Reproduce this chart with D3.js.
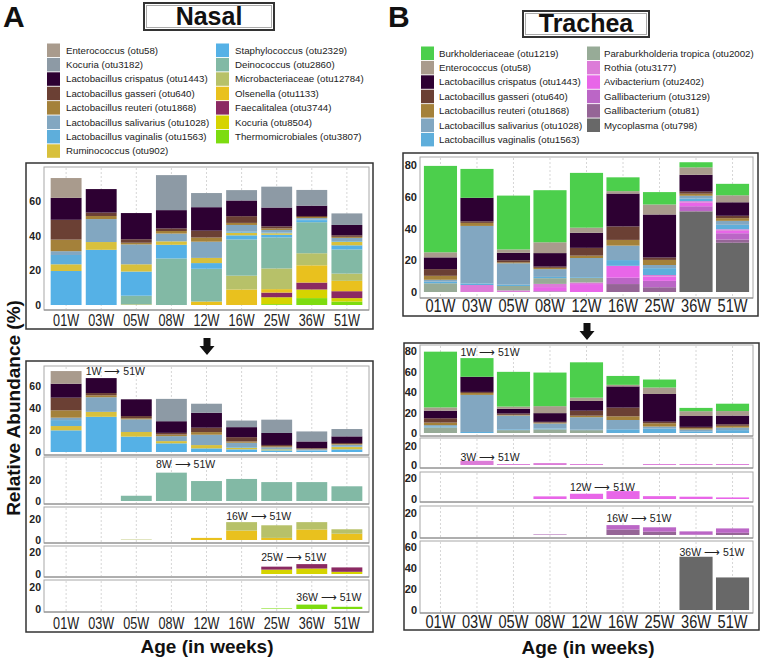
<!DOCTYPE html>
<html><head><meta charset="utf-8">
<script src="https://cdn.jsdelivr.net/npm/d3@7"></script>
<style>
body{margin:0;background:#fff}
text{font-family:"Liberation Sans",Arial,Helvetica,sans-serif}
</style>
</head><body>
<svg id="c" width="760" height="659"></svg>
<script>
// ---------------- DATA ----------------
const weeks = ["01W","03W","05W","08W","12W","16W","25W","36W","51W"];

// Nasal taxa (legend order) and colours
const nasalTaxa = ["Enterococcus (otu58)","Kocuria (otu3182)","Lactobacillus crispatus (otu1443)","Lactobacillus gasseri (otu640)","Lactobacillus reuteri (otu1868)","Lactobacillus salivarius (otu1028)","Lactobacillus vaginalis (otu1563)","Ruminococcus (otu902)","Staphylococcus (otu2329)","Deinococcus (otu2860)","Microbacteriaceae (otu12784)","Olsenella (otu1133)","Faecalitalea (otu3744)","Kocuria (otu8504)","Thermomicrobiales (otu3807)"];
const nasalColors = ["#a99b8d","#8d9aa5","#2d0032","#6b4034","#a4813a","#82a7c1","#5eaedb","#d8c03c","#55b1e6","#82b9a5","#b7c169","#e9c11e","#8b2a62","#d6d400","#7ddc10"];

const nEnterococcus   = [11.5, 0,    0,    0,    0,    0,    0,    0,   0];
const nKocuria3182    = [0,    0,    0,    20.3, 8.2,  6,    12.1, 9.1, 6.7];
const nCrispatus      = [12.7, 13.6, 15.2, 10.6, 13.6, 9.1,  10.9, 6,   6];
const nGasseri        = [11.5, 2,    2,    1.5,  4,    3.9,  1.2,  0.6, 0.9];
const nReuteri        = [6.7,  1.8,  1,    1.5,  2.4,  1.2,  0.9,  0.6, 0.6];
const nSalivarius     = [2.2,  13.3, 11.5, 4.5,  9.4,  3.9,  1.5,  0.9, 1.8];
const nVaginalis      = [5.4,  0,    0,    0,    0,    0.6,  0.4,  0.3, 0.4];
const nRuminococcus   = [3.9,  4.5,  4.2,  2,    3,    1.5,  0.9,  0,   2.1];
const nStaphylococcus = [19.7, 32,   14,   7.9,  3.3,  2.4,  1.5,  1.2, 2.4];
const nDeinococcus    = [0,    0,    5,    27,   19,   21,   18,   18,  14];
const nMicrobact      = [0,    0,    0.4,  0,    0,    8,    12,   7,   4.2];
const nOlsenella      = [0,    0,    0,    0,    2,    9,    2,    10,  6];
const nFaecalitalea   = [0,    0,    0,    0,    0,    0,    2.7,  4,   4];
const nKocuria8504    = [0,    0,    0,    0,    0,    0,    4,    5,   2];
const nThermo         = [0,    0,    0,    0,    0,    0,    0.5,  4,   2];
const nasalSeries = [nEnterococcus,nKocuria3182,nCrispatus,nGasseri,nReuteri,nSalivarius,nVaginalis,nRuminococcus,nStaphylococcus,nDeinococcus,nMicrobact,nOlsenella,nFaecalitalea,nKocuria8504,nThermo];

// Trachea taxa (legend order) and colours
const trachTaxa = ["Burkholderiaceae (otu1219)","Enterococcus (otu58)","Lactobacillus crispatus (otu1443)","Lactobacillus gasseri (otu640)","Lactobacillus reuteri (otu1868)","Lactobacillus salivarius (otu1028)","Lactobacillus vaginalis (otu1563)","Paraburkholderia tropica (otu2002)","Rothia (otu3177)","Avibacterium (otu2402)","Gallibacterium (otu3129)","Gallibacterium (otu81)","Mycoplasma (otu798)"];
const trachColors = ["#4ccf4c","#a99b8d","#2d0032","#6b4034","#a4813a","#82a7c1","#5eaedb","#97ab97","#dc7cd8","#e866e8","#bb66c6","#956596","#686868"];

const tBurkh       = [54.4, 18.2, 33.9, 32.8, 34.5, 8.7,  7.8,  3.2,  7.2];
const tEnterococcus= [3.2,  0,    2.1,  6.8,  3.2,  1.5,  6.3,  4.7,  4.4];
const tCrispatus   = [7.4,  14.8, 4.7,  8.5,  9.5,  20.7, 27.1, 10.6, 8.5];
const tGasseri     = [4.2,  1,    1.3,  0.8,  4.9,  8.5,  1.5,  1.3,  1.5];
const tReuteri     = [2.5,  1.9,  0.6,  0.8,  1.5,  3.6,  3.2,  1.3,  1.7];
const tSalivarius  = [1.2,  36.2, 13.5, 4.9,  12.1, 9.1,  2.0,  1.8,  2.5];
const tVaginalis   = [1,    1,    0.8,  0.8,  0.5,  3.6,  4.3,  1.6,  2.8];
const tParabur     = [5.5,  0,    2.8,  3.6,  2.8,  0,    0,    0,    0];
const tRothia      = [0,    4.4,  1,    2,    1,    0,    1,    1,    1];
const tAvibact     = [0,    0,    0,    2.5,  5,    7.5,  2.7,  2.2,  1.5];
const tGallib3129  = [0,    0,    0,    0.3,  0,    4,    4,    3,    4];
const tGallib81    = [0,    0,    0,    0.3,  0,    5,    3,    0.3,  2];
const tMycoplasma  = [0,    0,    0,    0,    0,    0,    0,    50.7, 31];
const trachSeries = [tBurkh,tEnterococcus,tCrispatus,tGasseri,tReuteri,tSalivarius,tVaginalis,tParabur,tRothia,tAvibact,tGallib3129,tGallib81,tMycoplasma];

// panel groupings (indices into the series) and labels
const nasalGroups = [[0,1,2,3,4,5,6,7,8],[9],[10,11],[12,13],[14]];
const nasalGroupLabels = ["1W \u27F6 51W","8W \u27F6 51W","16W \u27F6 51W","25W \u27F6 51W","36W \u27F6 51W"];
const nasalLabelWeek = ["03W","08W","16W","25W","36W"];
const trachGroups = [[0,1,2,3,4,5,6,7],[8],[9],[10,11],[12]];
const trachGroupLabels = ["1W \u27F6 51W","3W \u27F6 51W","12W \u27F6 51W","16W \u27F6 51W","36W \u27F6 51W"];
const trachLabelWeek = ["03W","03W","12W","16W","36W"];

const ticksTopNasal = [0,20,40,60];
const ticksTopTrach = [0,20,40,60,80];

// ---------------- DRAW ----------------
const svg = d3.select("#c");
const FONT = '"Liberation Sans",Arial,Helvetica,sans-serif';

function makeTable(series){
  return weeks.map((w,i)=>{const r={week:w}; series.forEach((s,k)=>r[k]=s[i]); return r;});
}
const nasalTable = makeTable(nasalSeries);
const trachTable = makeTable(trachSeries);

function drawPanel(g, x, p, keys, table, colors, opt){
  const y = d3.scaleLinear().domain([0,p.max]).range([p.base,p.top]);
  const [x0,x1] = x.range();
  g.append("rect").attr("x",x0).attr("y",p.top).attr("width",x1-x0).attr("height",p.bottom-p.top)
    .attr("fill","#fff").attr("stroke","#a8a8a8").attr("stroke-width",1);
  g.append("g").selectAll("line").data(weeks).join("line")
    .attr("x1",d=>x(d)+x.bandwidth()/2).attr("x2",d=>x(d)+x.bandwidth()/2)
    .attr("y1",p.top+1).attr("y2",p.bottom-1)
    .attr("stroke","#d6d6d6").attr("stroke-dasharray","2,2").attr("stroke-width",1);
  g.append("line").attr("x1",x0).attr("x2",x1).attr("y1",p.bottom).attr("y2",p.bottom)
    .attr("stroke","#8a8a8a").attr("stroke-width",1);
  const st = d3.stack().keys(keys.slice().reverse())(table);
  g.append("g").selectAll("g").data(st).join("g").attr("fill",s=>colors[s.key])
    .selectAll("rect").data(s=>s).join("rect")
    .attr("x",d=>x(d.data.week)).attr("width",x.bandwidth())
    .attr("y",d=>y(d[1])).attr("height",d=>Math.max(0,y(d[0])-y(d[1])));
  const ax = g.append("g").attr("transform",`translate(${x0},0)`)
    .call(d3.axisLeft(y).tickValues(p.ticks).tickSize(0).tickPadding(p.pad||3));
  ax.select(".domain").remove();
  ax.selectAll("text").attr("font-family",FONT).attr("font-weight","bold")
    .attr("font-size",opt.tickFont).attr("fill","#222");
  if(p.label){
    g.append("text").attr("x",x(p.labelWeek)).attr("y",p.labelY)
      .attr("font-size",opt.labelFont).attr("fill","#222").text(p.label);
  }
  return y;
}

function xAxis(g, x, yPos, pad, fs, len){
  const ax = g.append("g").attr("transform",`translate(0,${yPos})`)
    .call(d3.axisBottom(x).tickSize(0).tickPadding(pad));
  ax.select(".domain").remove();
  ax.selectAll("text").attr("font-family",FONT).attr("font-size",fs).attr("fill","#222")
    .attr("textLength",len).attr("lengthAdjust","spacingAndGlyphs");
}

function legend(g, taxa, colors, cols, rowStart, rowStep, perCol, fs){
  taxa.forEach((t,i)=>{
    const c = i<perCol?0:1, r = i<perCol?i:i-perCol;
    const cy = rowStart + r*rowStep;
    g.append("rect").attr("x",cols[c][0]).attr("y",cy-6.5).attr("width",13).attr("height",13.5).attr("fill",colors[i]);
    g.append("text").attr("x",cols[c][1]).attr("y",cy+3.5).attr("font-size",fs).attr("fill","#222").text(t);
  });
}

function titleBox(g, x, y, w, h, label){
  g.append("rect").attr("x",x).attr("y",y).attr("width",w).attr("height",h).attr("fill","#fff")
    .attr("stroke","#333").attr("stroke-width",2);
  g.append("rect").attr("x",x+2.5).attr("y",y+2.5).attr("width",w-5).attr("height",h-5).attr("fill","none")
    .attr("stroke","#aaa").attr("stroke-width",1);
  g.append("text").attr("x",x+w/2).attr("y",y+h/2+8).attr("text-anchor","middle")
    .attr("font-size",25).attr("font-weight","bold").attr("fill","#111").text(label);
}

function downArrow(g, cx, top){
  const d = `M${cx-3.5},${top} L${cx+3.5},${top} L${cx+3.5},${top+8} L${cx+7.5},${top+8} L${cx},${top+17} L${cx-7.5},${top+8} L${cx-3.5},${top+8} Z`;
  g.append("path").attr("d",d).attr("fill","#111");
}

// Panel letters
svg.append("text").attr("x",3).attr("y",27).attr("font-size",30).attr("font-weight","bold").attr("fill","#111").text("A");
svg.append("text").attr("x",388).attr("y",27).attr("font-size",30).attr("font-weight","bold").attr("fill","#111").text("B");

titleBox(svg,144,3,130,27,"Nasal");
titleBox(svg,523,11,126,26,"Trachea");

legend(svg.append("g"), nasalTaxa, nasalColors, [[47,66],[216,235]], 50, 14.4, 8, 9.7);
legend(svg.append("g"), trachTaxa, trachColors, [[421,439],[587,604]], 53, 14.4, 7, 9.7);

// ---- Nasal ----
const xN = d3.scaleBand().domain(weeks).range([44,369]).paddingInner(0.12).paddingOuter(0.19);
const gNT = svg.append("g");
gNT.append("rect").attr("x",26).attr("y",163).attr("width",347).attr("height",166).attr("fill","#fff").attr("stroke","#333").attr("stroke-width",1.5);
drawPanel(gNT, xN, {top:167,bottom:310,base:305,max:80,ticks:ticksTopNasal},
  d3.range(nasalSeries.length), nasalTable, nasalColors, {tickFont:10.5,labelFont:10.5});
xAxis(gNT, xN, 310, 4, 16.5, 26);
downArrow(svg, 207, 338);

const gNB = svg.append("g");
gNB.append("rect").attr("x",26).attr("y",361).attr("width",347).attr("height",271).attr("fill","#fff").attr("stroke","#333").attr("stroke-width",1.5);
const nasalPanels = [
  {top:366,bottom:455,base:452,max:78.2,ticks:[0,20,40,60],labelY:375},
  {top:457,bottom:504,base:501,max:41.9,ticks:[0,20],labelY:468},
  {top:507,bottom:543,base:540,max:31.4,ticks:[0,20],labelY:520},
  {top:546,bottom:577,base:574,max:25.5,ticks:[0,20],labelY:561},
  {top:580,bottom:612,base:609,max:26.4,ticks:[0,20],labelY:601}
];
nasalPanels.forEach((p,i)=>{
  p.label = nasalGroupLabels[i]; p.labelWeek = nasalLabelWeek[i];
  drawPanel(gNB.append("g"), xN, p, nasalGroups[i], nasalTable, nasalColors, {tickFont:10.5,labelFont:10.5});
});
xAxis(gNB, xN, 612, 5, 16.5, 26);

// ---- Trachea ----
const xT = d3.scaleBand().domain(weeks).range([420,753]).paddingInner(0.093).paddingOuter(0.107);
const gTT = svg.append("g");
gTT.append("rect").attr("x",403).attr("y",153).attr("width",355).attr("height",163).attr("fill","#fff").attr("stroke","#333").attr("stroke-width",1.5);
drawPanel(gTT, xT, {top:157,bottom:298,base:292,max:85,ticks:ticksTopTrach},
  d3.range(trachSeries.length), trachTable, trachColors, {tickFont:11,labelFont:10.5});
xAxis(gTT, xT, 298, 2, 17.5, 30);
downArrow(svg, 587, 323);

const gTB = svg.append("g");
gTB.append("rect").attr("x",404).attr("y",343).attr("width",355).attr("height",287).attr("fill","#fff").attr("stroke","#333").attr("stroke-width",1.5);
const trachPanels = [
  {top:345,bottom:436,base:433,max:85.9,ticks:[0,20,40,60,80],labelY:356},
  {top:438,bottom:468,base:465,max:28.4,ticks:[0,20],labelY:461},
  {top:472,bottom:502,base:499,max:25.7,ticks:[0,20],labelY:491},
  {top:506,bottom:538,base:535,max:26.4,ticks:[0,20],labelY:522},
  {top:541,bottom:613,base:610,max:65.7,ticks:[0,20,40,60],labelY:556}
];
trachPanels.forEach((p,i)=>{
  p.label = trachGroupLabels[i]; p.labelWeek = trachLabelWeek[i];
  drawPanel(gTB.append("g"), xT, p, trachGroups[i], trachTable, trachColors, {tickFont:11,labelFont:10.5});
});
xAxis(gTB, xT, 613, 3, 17.5, 30);

// axis titles
svg.append("text").attr("transform","translate(20,408) rotate(-90)").attr("text-anchor","middle")
  .attr("font-size",19).attr("font-weight","bold").attr("fill","#111").text("Relative Abundance (%)");
svg.append("text").attr("x",207).attr("y",653).attr("text-anchor","middle")
  .attr("font-size",19).attr("font-weight","bold").attr("fill","#111").text("Age (in weeks)");
svg.append("text").attr("x",588).attr("y",654).attr("text-anchor","middle")
  .attr("font-size",19).attr("font-weight","bold").attr("fill","#111").text("Age (in weeks)");
</script>
</body></html>
